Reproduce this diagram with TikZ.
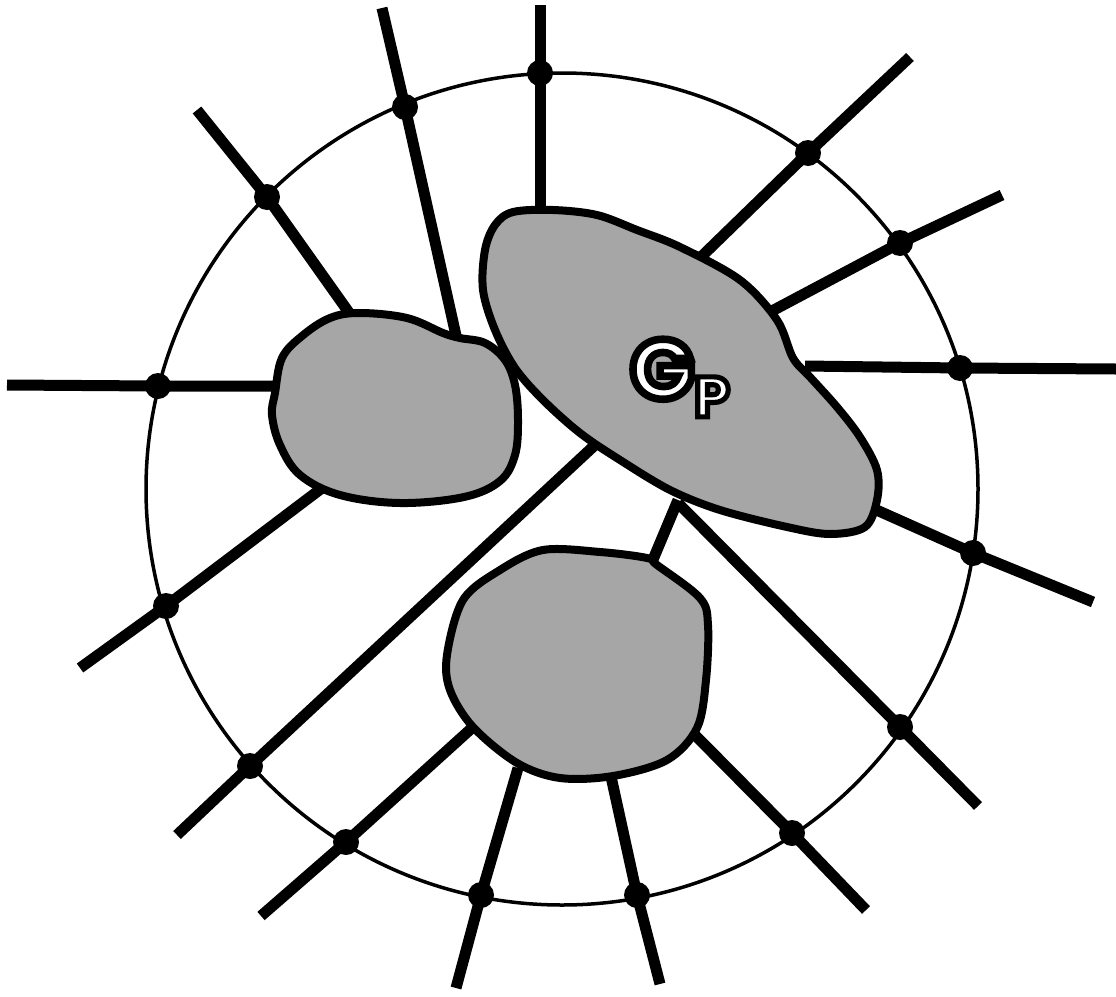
\documentclass[tikz,border=0pt]{standalone}
\usepackage{fontspec}
\newfontfamily\gpthick{Poppins}[UprightFont={* Bold},FakeBold=9]
\usetikzlibrary{calc}

\newcommand{\gpmark}{{\fontsize{84}{84}\selectfont G}\raisebox{-18pt}{\fontsize{57}{57}\selectfont P}}
% white letters, stroked in black
\newcommand{\gplabel}{{\gpthick\color{white}\special{pdf:literal direct 0 G}\gpmark}}

\tikzset{
  ring/.style={line width=3.5pt},
  spoke/.style={line width=11pt},
  blob/.style={line width=8pt, fill=black!35, line join=round},
  vertex/.style={fill=black}
}

\begin{document}
\begin{tikzpicture}[x=1pt,y=-1pt]
    \useasboundingbox (0,0) rectangle (1116,996);
    \coordinate (c) at (562,489);
    \draw[ring] (c) circle (416);
    % outer end / vertex on the ring / end at a region
    \foreach \n/\o/\d/\i in {
        1/{540,5}/{540,73}/{540,225},
        2/{382,8}/{405,107}/{457,340},
        3/{197,110}/{267,197}/{350,314},
        4/{7,385}/{158,386}/{280,386},
        5/{80,668}/{166,606}/{322,488},
        6/{177,835}/{250,766}/{595,445},
        7/{261,916}/{346,842}/{473,727},
        8/{456,988}/{481,895}/{518,768},
        9/{660,984}/{637,895}/{610,772},
        10/{866,910}/{792,833}/{690,730},
        11/{978,806}/{900,727}/{678,503},
        12/{1093,602}/{973,553}/{872,508},
        13/{1116,369}/{960,368}/{805,366},
        14/{1002,195}/{900,243}/{770,312},
        15/{910,57}/{808,153}/{702,256}} {
        \coordinate (o\n) at (\o);
        \coordinate (d\n) at (\d);
        \coordinate (i\n) at (\i);
        \draw[spoke] (o\n) -- (d\n) -- (i\n);
        \fill[vertex] (d\n) circle (13);
    }
    \coordinate (bigfoot) at (678,500);
    \coordinate (lowtop) at (652,562);
    \draw[spoke] (bigfoot) -- (lowtop);
    % the three regions
    \draw[blob] plot[smooth cycle, tension=0.6] coordinates {
        (275,393) (282,358) (302,336) (330,318) (360,313) (407,318) (443,333)
        (460,338) (485,343) (505,360) (515,385) (518,420) (515,455) (500,481)
        (464,497) (400,503) (340,495) (300,475) (280,445) (272,415)};
    \draw[blob] plot[smooth cycle, tension=0.55] coordinates {
        (513,212) (553,210) (597,215) (637,230) (680,247) (740,280) (777,320)
        (793,358) (810,377) (837,407) (860,437) (877,470) (877,500) (865,527)
        (830,534) (787,527) (720,510) (670,490) (620,460) (580,433) (543,400)
        (515,368) (495,330) (483,290) (485,250) (495,225)};
    \draw[blob] plot[smooth cycle, tension=0.55] coordinates {
        (500,570) (543,550) (600,552) (647,558) (657,565) (700,598) (708,625)
        (706,680) (697,728) (667,760) (613,776) (560,778) (517,763) (473,727)
        (450,690) (447,655) (463,600)};
    % label
    \node[anchor=north west, inner sep=0] (gp) at (630,339) {\gplabel};
\end{tikzpicture}
\end{document}
